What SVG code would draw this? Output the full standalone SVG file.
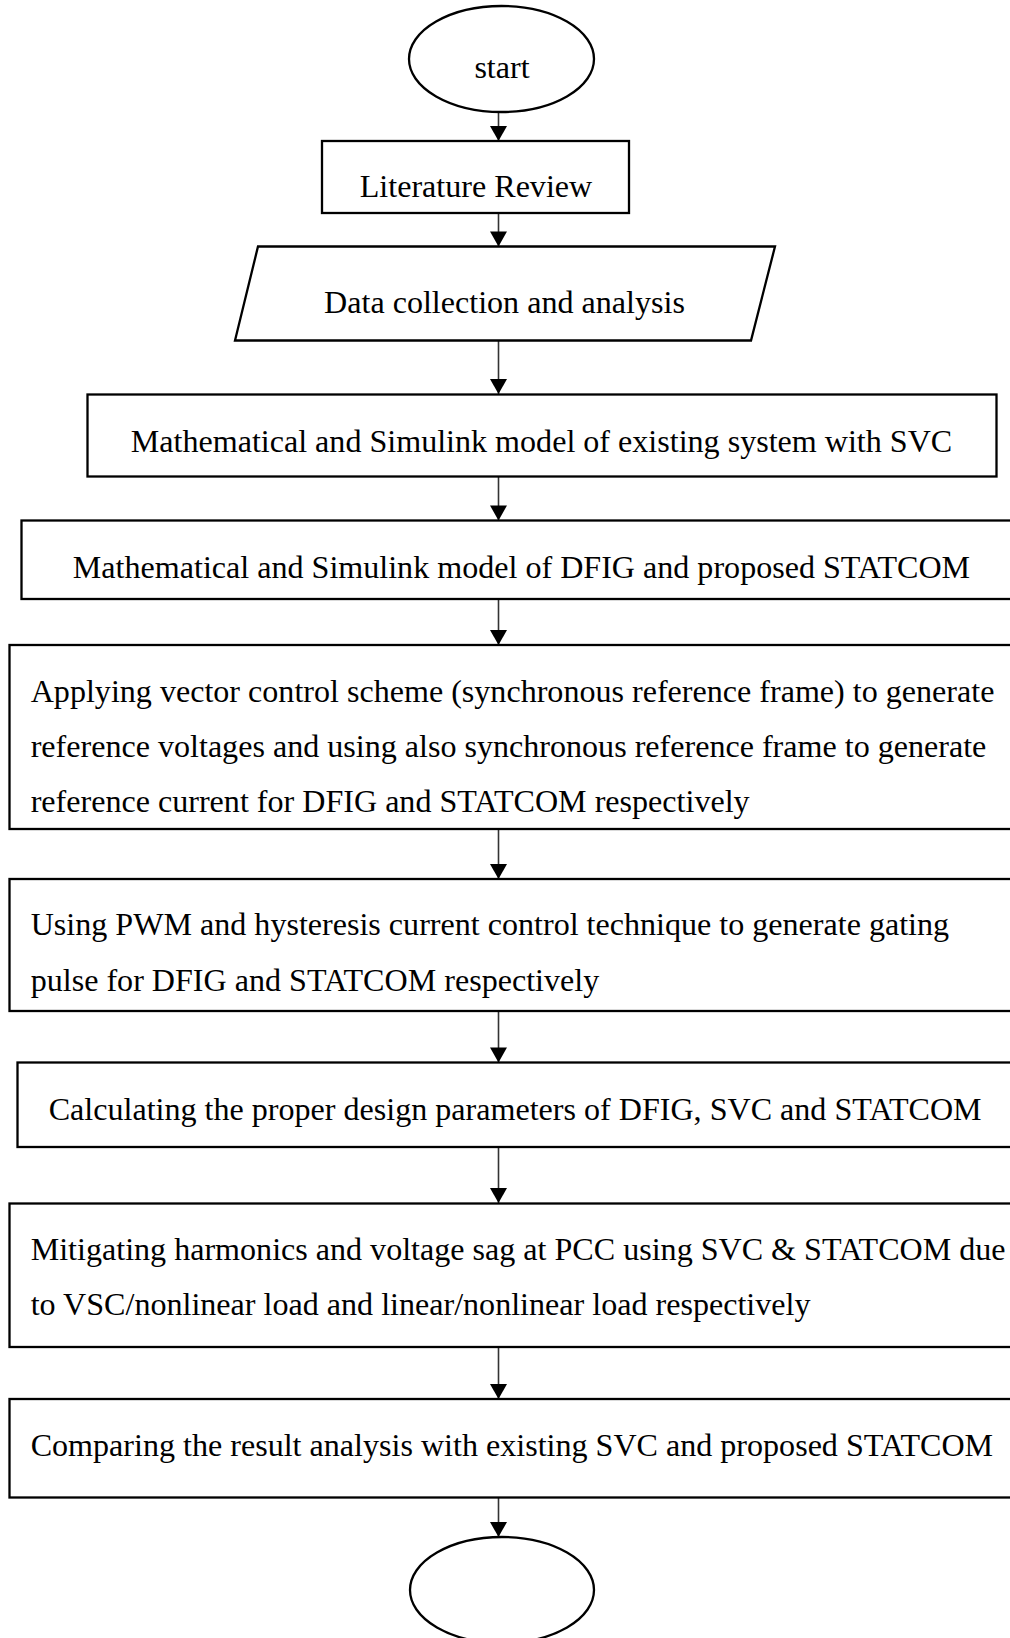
<svg xmlns="http://www.w3.org/2000/svg" width="1010" height="1638" viewBox="0 0 1010 1638">
<defs>
<style>
.n{fill:#fff;stroke:#000;stroke-width:2.3}
.t{font-family:"Liberation Serif","Times New Roman",serif;font-size:32.1px;fill:#000}
.c{text-anchor:middle}
.e{stroke:#333;stroke-width:1.6;fill:none}
</style>
<marker id="ah" markerUnits="userSpaceOnUse" markerWidth="16" markerHeight="17" viewBox="0 0 15 17" refX="15" refY="8.5" orient="auto">
<path d="M0,0 L15,8.5 L0,17 z" fill="#000"/>
</marker>
</defs>
<rect width="1010" height="1638" fill="#fff"/>
<g id="connectors">
<line class="e" x1="498.5" y1="110" x2="498.5" y2="141" marker-end="url(#ah)"/>
<line class="e" x1="498.5" y1="213" x2="498.5" y2="246.5" marker-end="url(#ah)"/>
<line class="e" x1="498.5" y1="340.5" x2="498.5" y2="394" marker-end="url(#ah)"/>
<line class="e" x1="498.5" y1="477" x2="498.5" y2="520.5" marker-end="url(#ah)"/>
<line class="e" x1="498.5" y1="599" x2="498.5" y2="645" marker-end="url(#ah)"/>
<line class="e" x1="498.5" y1="829" x2="498.5" y2="879" marker-end="url(#ah)"/>
<line class="e" x1="498.5" y1="1011" x2="498.5" y2="1062.5" marker-end="url(#ah)"/>
<line class="e" x1="498.5" y1="1147" x2="498.5" y2="1203" marker-end="url(#ah)"/>
<line class="e" x1="498.5" y1="1347" x2="498.5" y2="1399" marker-end="url(#ah)"/>
<line class="e" x1="498.5" y1="1497.5" x2="498.5" y2="1537" marker-end="url(#ah)"/>
</g>
<g id="start">
<ellipse class="n" cx="501.5" cy="59" rx="92.5" ry="53"/>
<text class="t c" x="502" y="78">start</text>
</g>
<g id="literature">
<rect class="n" x="322" y="141" width="307" height="72"/>
<text class="t c" x="476" y="197">Literature Review</text>
</g>
<g id="data">
<polygon class="n" points="258,246.5 775,246.5 751,340.5 235,340.5"/>
<text class="t c" x="504.5" y="312.5">Data collection and analysis</text>
</g>
<g id="svc-model">
<rect class="n" x="87.5" y="394.5" width="909" height="82"/>
<text class="t c" x="541.5" y="452">Mathematical and Simulink model of existing system with SVC</text>
</g>
<g id="dfig-model">
<rect class="n" x="21.5" y="520.5" width="1000" height="78.5"/>
<text class="t c" x="521.5" y="578">Mathematical and Simulink model of DFIG and proposed STATCOM</text>
</g>
<g id="vector-control">
<rect class="n" x="9.5" y="645" width="1010" height="184"/>
<text class="t" x="30.7" y="701.5">Applying vector control scheme (synchronous reference frame) to generate</text>
<text class="t" x="30.7" y="756.5">reference voltages and using also synchronous reference frame to generate</text>
<text class="t" x="30.7" y="811.5">reference current for DFIG and STATCOM respectively</text>
</g>
<g id="pwm">
<rect class="n" x="9.5" y="879" width="1010" height="132"/>
<text class="t" x="30.7" y="935">Using PWM and hysteresis current control technique to generate gating</text>
<text class="t" x="30.7" y="990.5">pulse for DFIG and STATCOM respectively</text>
</g>
<g id="design">
<rect class="n" x="17.5" y="1062.5" width="1000" height="84.5"/>
<text class="t" x="48.7" y="1120">Calculating the proper design parameters of DFIG, SVC and STATCOM</text>
</g>
<g id="mitigating">
<rect class="n" x="9.5" y="1203.5" width="1010" height="143.5"/>
<text class="t" x="30.7" y="1260">Mitigating harmonics and voltage sag at PCC using SVC &amp; STATCOM due</text>
<text class="t" x="30.7" y="1315">to VSC/nonlinear load and linear/nonlinear load respectively</text>
</g>
<g id="comparing">
<rect class="n" x="9.5" y="1399" width="1010" height="98.5"/>
<text class="t" x="30.7" y="1455.5">Comparing the result analysis with existing SVC and proposed STATCOM</text>
</g>
<g id="end">
<ellipse class="n" cx="502" cy="1590" rx="92" ry="53"/>
</g>
</svg>
